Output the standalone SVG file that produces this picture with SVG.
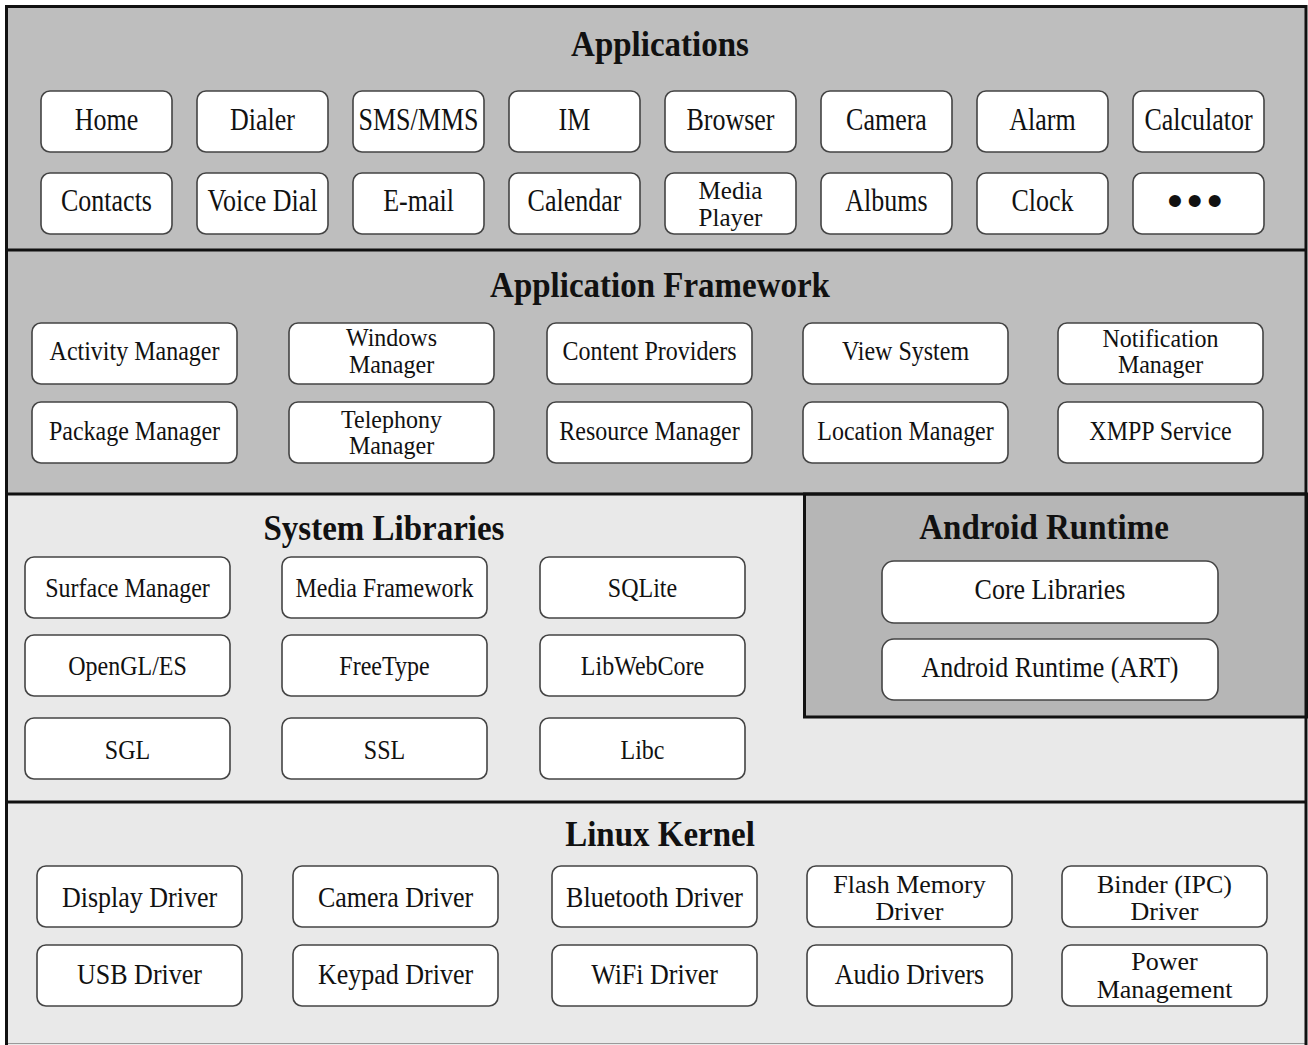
<svg xmlns="http://www.w3.org/2000/svg" width="1308" height="1045" viewBox="0 0 1308 1045">
<style>
text{font-family:"Liberation Serif","Times New Roman",serif;fill:#111;text-anchor:middle}
.title{font-size:33px;font-weight:bold}
.a{font-size:26px}
.m{font-size:24px}
.k{font-size:25px}
.box{fill:#fff;stroke:#444;stroke-width:1.6}
.div{stroke:#111;stroke-width:3;fill:none}
</style>
<g id="layers">
<rect x="6" y="6" width="1300" height="244" fill="#bebebe"/>
<rect x="6" y="250" width="1300" height="244" fill="#bebebe"/>
<rect x="6" y="494" width="1300" height="308" fill="#e9e9e9"/>
<rect x="6" y="802" width="1300" height="245" fill="#e9e9e9"/>
<rect id="runtime-layer" x="804.5" y="494" width="502" height="223" fill="#b6b6b6" stroke="#111" stroke-width="3"/>
<line class="div" x1="6" y1="250" x2="1306" y2="250"/>
<line class="div" x1="6" y1="494" x2="1306" y2="494"/>
<line class="div" x1="6" y1="802" x2="1306" y2="802"/>
<line x1="6" y1="1043.5" x2="1306" y2="1043.5" stroke="#9a9a9a" stroke-width="1"/>
<rect class="div" x="6.5" y="6.5" width="1299.5" height="1043"/>
</g>
<g id="titles">
<text class="title" transform="translate(660,56) scale(1,1.1)">Applications</text>
<text class="title" transform="translate(660,297) scale(1,1.1)">Application Framework</text>
<text class="title" transform="translate(384,540) scale(1,1.1)">System Libraries</text>
<text class="title" transform="translate(1044,539) scale(1,1.1)">Android Runtime</text>
<text class="title" transform="translate(660,846) scale(1,1.1)">Linux Kernel</text>
</g>
<g id="applications">
<g id="home"><rect class="box" x="41" y="91" width="131" height="61" rx="9"/><text class="a" transform="translate(106.5,130) scale(1,1.2)">Home</text></g>
<g id="dialer"><rect class="box" x="197" y="91" width="131" height="61" rx="9"/><text class="a" transform="translate(262.5,130) scale(1,1.2)">Dialer</text></g>
<g id="sms"><rect class="box" x="353" y="91" width="131" height="61" rx="9"/><text class="a" transform="translate(418.5,130) scale(1,1.2)">SMS/MMS</text></g>
<g id="im"><rect class="box" x="509" y="91" width="131" height="61" rx="9"/><text class="a" transform="translate(574.5,130) scale(1,1.2)">IM</text></g>
<g id="browser"><rect class="box" x="665" y="91" width="131" height="61" rx="9"/><text class="a" transform="translate(730.5,130) scale(1,1.2)">Browser</text></g>
<g id="camera"><rect class="box" x="821" y="91" width="131" height="61" rx="9"/><text class="a" transform="translate(886.5,130) scale(1,1.2)">Camera</text></g>
<g id="alarm"><rect class="box" x="977" y="91" width="131" height="61" rx="9"/><text class="a" transform="translate(1042.5,130) scale(1,1.2)">Alarm</text></g>
<g id="calculator"><rect class="box" x="1133" y="91" width="131" height="61" rx="9"/><text class="a" transform="translate(1198.5,130) scale(1,1.2)">Calculator</text></g>
<g id="contacts"><rect class="box" x="41" y="173" width="131" height="61" rx="9"/><text class="a" transform="translate(106.5,211) scale(1,1.2)">Contacts</text></g>
<g id="voicedial"><rect class="box" x="197" y="173" width="131" height="61" rx="9"/><text class="a" transform="translate(262.5,211) scale(1,1.2)">Voice Dial</text></g>
<g id="email"><rect class="box" x="353" y="173" width="131" height="61" rx="9"/><text class="a" transform="translate(418.5,211) scale(1,1.2)">E-mail</text></g>
<g id="calendar"><rect class="box" x="509" y="173" width="131" height="61" rx="9"/><text class="a" transform="translate(574.5,211) scale(1,1.2)">Calendar</text></g>
<g id="mediaplayer"><rect class="box" x="665" y="173" width="131" height="61" rx="9"/><text class="k" x="730.5" y="199">Media</text><text class="k" x="730.5" y="226">Player</text></g>
<g id="albums"><rect class="box" x="821" y="173" width="131" height="61" rx="9"/><text class="a" transform="translate(886.5,211) scale(1,1.2)">Albums</text></g>
<g id="clock"><rect class="box" x="977" y="173" width="131" height="61" rx="9"/><text class="a" transform="translate(1042.5,211) scale(1,1.2)">Clock</text></g>
<g id="more"><rect class="box" x="1133" y="173" width="131" height="61" rx="9"/><text x="1197" y="216" style="font-family:'Liberation Sans',Arial,sans-serif;font-size:44px;letter-spacing:4.4px">•••</text></g>
</g>
<g id="framework">
<g id="activity"><rect class="box" x="32" y="323" width="205" height="61" rx="9"/><text class="m" transform="translate(134.5,360) scale(1,1.1)">Activity Manager</text></g>
<g id="windows"><rect class="box" x="289" y="323" width="205" height="61" rx="9"/><text class="m" transform="translate(391.5,346) scale(1,1.05)">Windows</text><text class="m" transform="translate(391.5,373) scale(1,1.05)">Manager</text></g>
<g id="content"><rect class="box" x="547" y="323" width="205" height="61" rx="9"/><text class="m" transform="translate(649.5,360) scale(1,1.1)">Content Providers</text></g>
<g id="view"><rect class="box" x="803" y="323" width="205" height="61" rx="9"/><text class="m" transform="translate(905.5,360) scale(1,1.1)">View System</text></g>
<g id="notification"><rect class="box" x="1058" y="323" width="205" height="61" rx="9"/><text class="m" transform="translate(1160.5,347) scale(1,1.05)">Notification</text><text class="m" transform="translate(1160.5,373) scale(1,1.05)">Manager</text></g>
<g id="package"><rect class="box" x="32" y="402" width="205" height="61" rx="9"/><text class="m" transform="translate(134.5,440) scale(1,1.1)">Package Manager</text></g>
<g id="telephony"><rect class="box" x="289" y="402" width="205" height="61" rx="9"/><text class="m" transform="translate(391.5,428) scale(1,1.05)">Telephony</text><text class="m" transform="translate(391.5,454) scale(1,1.05)">Manager</text></g>
<g id="resource"><rect class="box" x="547" y="402" width="205" height="61" rx="9"/><text class="m" transform="translate(649.5,440) scale(1,1.1)">Resource Manager</text></g>
<g id="location"><rect class="box" x="803" y="402" width="205" height="61" rx="9"/><text class="m" transform="translate(905.5,440) scale(1,1.1)">Location Manager</text></g>
<g id="xmpp"><rect class="box" x="1058" y="402" width="205" height="61" rx="9"/><text class="m" transform="translate(1160.5,440) scale(1,1.1)">XMPP Service</text></g>
</g>
<g id="libraries">
<g id="surface"><rect class="box" x="25" y="557" width="205" height="61" rx="9"/><text class="m" transform="translate(127.5,597) scale(1,1.15)">Surface Manager</text></g>
<g id="media"><rect class="box" x="282" y="557" width="205" height="61" rx="9"/><text class="m" transform="translate(384.5,597) scale(1,1.15)">Media Framework</text></g>
<g id="sqlite"><rect class="box" x="540" y="557" width="205" height="61" rx="9"/><text class="m" transform="translate(642.5,597) scale(1,1.15)">SQLite</text></g>
<g id="opengl"><rect class="box" x="25" y="635" width="205" height="61" rx="9"/><text class="m" transform="translate(127.5,675) scale(1,1.15)">OpenGL/ES</text></g>
<g id="freetype"><rect class="box" x="282" y="635" width="205" height="61" rx="9"/><text class="m" transform="translate(384.5,675) scale(1,1.15)">FreeType</text></g>
<g id="libwebcore"><rect class="box" x="540" y="635" width="205" height="61" rx="9"/><text class="m" transform="translate(642.5,675) scale(1,1.15)">LibWebCore</text></g>
<g id="sgl"><rect class="box" x="25" y="718" width="205" height="61" rx="9"/><text class="m" transform="translate(127.5,759) scale(1,1.15)">SGL</text></g>
<g id="ssl"><rect class="box" x="282" y="718" width="205" height="61" rx="9"/><text class="m" transform="translate(384.5,759) scale(1,1.15)">SSL</text></g>
<g id="libc"><rect class="box" x="540" y="718" width="205" height="61" rx="9"/><text class="m" transform="translate(642.5,759) scale(1,1.15)">Libc</text></g>
</g>
<g id="runtime">
<g id="core"><rect class="box" x="882" y="561" width="336" height="62" rx="12"/><text class="a" transform="translate(1050,599) scale(1,1.12)">Core Libraries</text></g>
<g id="art"><rect class="box" x="882" y="639" width="336" height="61" rx="12"/><text class="a" transform="translate(1050,677) scale(1,1.12)">Android Runtime (ART)</text></g>
</g>
<g id="kernel">
<g id="display"><rect class="box" x="37" y="866" width="205" height="61" rx="9"/><text class="a" transform="translate(139.5,907) scale(1,1.12)">Display Driver</text></g>
<g id="cameradrv"><rect class="box" x="293" y="866" width="205" height="61" rx="9"/><text class="a" transform="translate(395.5,907) scale(1,1.12)">Camera Driver</text></g>
<g id="bluetooth"><rect class="box" x="552" y="866" width="205" height="61" rx="9"/><text class="a" transform="translate(654.5,907) scale(1,1.12)">Bluetooth Driver</text></g>
<g id="flash"><rect class="box" x="807" y="866" width="205" height="61" rx="9"/><text class="a" x="909.5" y="893">Flash Memory</text><text class="a" x="909.5" y="920">Driver</text></g>
<g id="binder"><rect class="box" x="1062" y="866" width="205" height="61" rx="9"/><text class="a" x="1164.5" y="893">Binder (IPC)</text><text class="a" x="1164.5" y="920">Driver</text></g>
<g id="usb"><rect class="box" x="37" y="945" width="205" height="61" rx="9"/><text class="a" transform="translate(139.5,984) scale(1,1.12)">USB Driver</text></g>
<g id="keypad"><rect class="box" x="293" y="945" width="205" height="61" rx="9"/><text class="a" transform="translate(395.5,984) scale(1,1.12)">Keypad Driver</text></g>
<g id="wifi"><rect class="box" x="552" y="945" width="205" height="61" rx="9"/><text class="a" transform="translate(654.5,984) scale(1,1.12)">WiFi Driver</text></g>
<g id="audio"><rect class="box" x="807" y="945" width="205" height="61" rx="9"/><text class="a" transform="translate(909.5,984) scale(1,1.12)">Audio Drivers</text></g>
<g id="power"><rect class="box" x="1062" y="945" width="205" height="61" rx="9"/><text class="a" x="1164.5" y="970">Power</text><text class="a" x="1164.5" y="998">Management</text></g>
</g>
<g id="connectors"/>
</svg>
